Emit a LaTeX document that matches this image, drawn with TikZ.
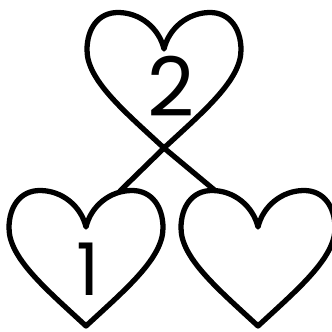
\documentclass[tikz,border=0pt]{standalone}
\usepackage{fontspec}
\newfontfamily\digitfont{Poppins}
\tikzset{
    heartline/.style={draw=black,line width=4.5pt,line join=round,line cap=round},
    digit/.style={font=\digitfont\fontsize{70}{70}\selectfont,inner sep=0pt},
    heart/.pic={
        \draw[heartline] (0,0) .. controls (-40,-37) and (-77,-68) .. (-77,-98)
            .. controls (-77,-119) and (-66,-135.5) .. (-46,-135.5)
            .. controls (-24,-135.5) and (-5,-120) .. (0,-99)
            .. controls (5,-120) and (24,-135.5) .. (46,-135.5)
            .. controls (66,-135.5) and (77,-119) .. (77,-98)
            .. controls (77,-68) and (40,-37) .. (0,0) -- cycle;
        \coordinate (-tip) at (0,0);
        \coordinate (-ljoin) at (-43,-135.5);
        \coordinate (-rjoin) at (34,-135);
    }
}
\begin{document}
\begin{tikzpicture}[x=0.03cm,y=-0.03cm]
    \useasboundingbox (0,0) rectangle (332,332);
    % hearts
    \pic (top) at (164,148) {heart};
    \pic (lefth) at (86,326) {heart};
    \pic (righth) at (258,326) {heart};
    % links
    \draw[heartline] (top-tip) -- (lefth-rjoin);
    \draw[heartline] (top-tip) -- (righth-ljoin);
    % labels
    \node[digit] (two) at (171,86.5) {2};
    \node[digit,font=\digitfont\fontsize{62}{62}\selectfont] (one) at (88,269.5) {1};
\end{tikzpicture}
\end{document}
